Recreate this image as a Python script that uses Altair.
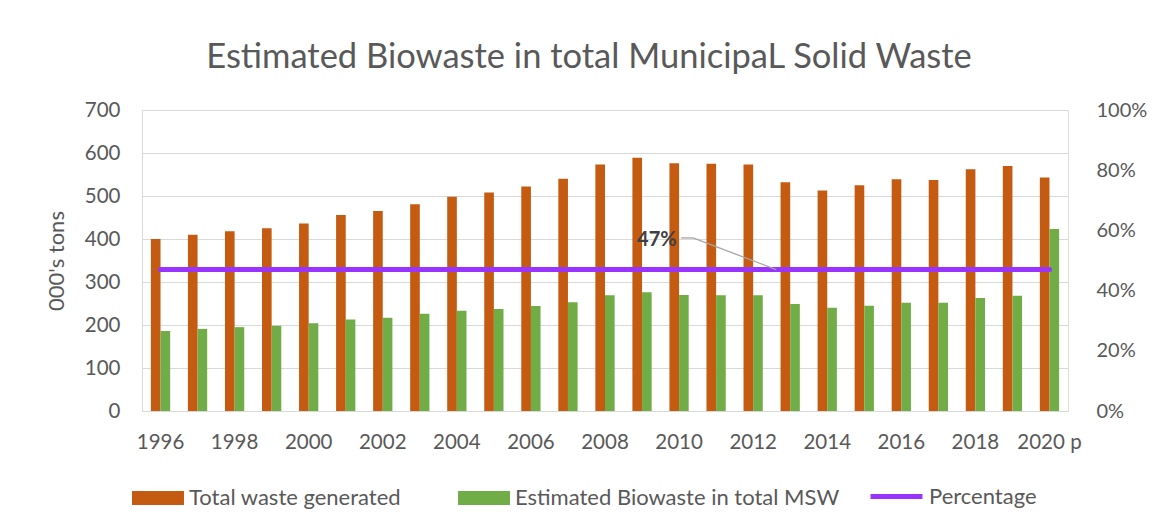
import altair as alt
import pandas as pd

years = ["1996", "1997", "1998", "1999", "2000", "2001", "2002", "2003", "2004",
         "2005", "2006", "2007", "2008", "2009", "2010", "2011", "2012", "2013",
         "2014", "2015", "2016", "2017", "2018", "2019", "2020 p"]
total_waste = [400, 410, 418, 425, 436, 456, 465, 481, 498, 508, 522, 540, 573,
               589, 576, 575, 573, 532, 513, 525, 539, 537, 562, 570, 543]
biowaste = [186, 191, 195, 198, 204, 213, 217, 226, 233, 237, 244, 253, 269,
            276, 270, 269, 269, 249, 240, 245, 252, 252, 263, 268, 423]
percentage = [0.47, 0.47, 0.47, 0.47, 0.47, 0.47, 0.47, 0.47, 0.47, 0.47, 0.47,
              0.47, 0.47, 0.47, 0.47, 0.47, 0.47, 0.47, 0.47, 0.47, 0.47, 0.47,
              0.47, 0.47, 0.47]
x_tick_labels = ["1996", "1998", "2000", "2002", "2004", "2006", "2008", "2010",
                 "2012", "2014", "2016", "2018", "2020 p"]
bar_series = ["Total waste generated", "Estimated Biowaste in total MSW"]
bar_colors = ["#C55A11", "#70AD47"]
line_series = ["Percentage"]
line_colors = ["#9933FF"]
label_year = ["2009"]
label_value = [0.568]
label_text = ["47%"]
leader_from = ["2010"]
leader_to = ["2013"]
leader_y_from = [0.575]
leader_y_to = [0.47]

FONT = "Lato"
GREY = "#595959"

bars_df = pd.DataFrame({
    "Year": years * 2,
    "Series": [bar_series[0]] * len(years) + [bar_series[1]] * len(years),
    "Value": total_waste + biowaste,
})
line_df = pd.DataFrame({"Year": years, "Series": line_series * len(years), "Pct": percentage})
label_df = pd.DataFrame({"Year": label_year, "Pct": label_value, "Text": label_text})
leader_df = pd.DataFrame({"Year": leader_from, "Year2": leader_to,
                          "Pct": leader_y_from, "Pct2": leader_y_to})

x_enc = alt.X("Year:N", sort="ascending",
              scale=alt.Scale(domain=years, paddingInner=0.48, paddingOuter=0.24),
              axis=alt.Axis(title=None, values=x_tick_labels, labelAngle=0, ticks=False,
                            domain=False, labelPadding=21, labelFontSize=20.5,
                            labelColor=GREY, labelFont=FONT))

bars = alt.Chart(bars_df).mark_bar().encode(
    x=x_enc,
    xOffset=alt.XOffset("Series:N", sort=bar_series),
    y=alt.Y("Value:Q", scale=alt.Scale(domain=[0, 700]),
            axis=alt.Axis(title="000's tons", values=list(range(0, 701, 100)),
                          ticks=False, domain=True, domainColor="#D9D9D9",
                          gridColor="#D9D9D9", labelFontSize=20.5, labelColor=GREY,
                          labelFont=FONT, labelPadding=22, titleFontSize=22,
                          titleColor=GREY, titleFont=FONT, titleFontWeight="normal",
                          titlePadding=16)),
    fill=alt.Fill("Series:N", scale=alt.Scale(domain=bar_series, range=bar_colors),
                  legend=alt.Legend(title=None, orient="none", legendX=-10, legendY=362,
                                    direction="horizontal",
                                    symbolType="M-1,-0.27H1V0.27H-1Z", symbolSize=2700,
                                    symbolStrokeWidth=0, labelFontSize=22,
                                    labelColor=GREY, labelFont=FONT, labelOffset=5,
                                    columnPadding=56, labelLimit=400)),
)

line = alt.Chart(line_df).mark_line(strokeWidth=5, strokeCap="round").encode(
    x=alt.X("Year:N", sort="ascending"),
    y=alt.Y("Pct:Q", scale=alt.Scale(domain=[0, 1]),
            axis=alt.Axis(orient="right", format=".0%", values=[0, 0.2, 0.4, 0.6, 0.8, 1.0],
                          grid=False, ticks=False, domain=False, title=None,
                          labelFontSize=20, labelColor=GREY, labelFont=FONT,
                          labelPadding=28)),
    stroke=alt.Stroke("Series:N", scale=alt.Scale(domain=line_series, range=line_colors),
                      legend=alt.Legend(title=None, orient="none", legendX=726, legendY=358,
                                        symbolType="stroke", symbolSize=2700,
                                        symbolStrokeWidth=5, labelFontSize=22,
                                        labelColor=GREY, labelFont=FONT, labelOffset=4)),
)

label = alt.Chart(label_df).mark_text(align="left", baseline="middle", dx=-5,
                                      fontSize=20, fontWeight="bold", color="#404040",
                                      font=FONT).encode(
    x=alt.X("Year:N", sort="ascending"),
    y="Pct:Q",
    text="Text:N",
)

leader_flat = alt.Chart(leader_df).mark_rule(color="#A6A6A6", strokeWidth=1.3,
                                             xOffset=2, x2Offset=14).encode(
    x=alt.X("Year:N", sort="ascending"),
    x2="Year:N",
    y="Pct:Q",
)

leader_diag = alt.Chart(leader_df).mark_rule(color="#A6A6A6", strokeWidth=1.3,
                                             xOffset=14, x2Offset=-14).encode(
    x=alt.X("Year:N", sort="ascending"),
    x2="Year2:N",
    y="Pct:Q",
    y2="Pct2:Q",
)

right_layers = alt.layer(line, leader_flat, leader_diag, label)

chart = alt.layer(bars, right_layers).resolve_scale(
    y="independent", fill="independent", stroke="independent"
).properties(
    width=926,
    height=301,
    title=alt.TitleParams("Estimated Biowaste in total MunicipaL Solid Waste",
                          fontSize=34.5, color=GREY, font=FONT, fontWeight="normal",
                          anchor="middle", offset=25, dx=-16),
    autosize=alt.AutoSizeParams(type="none"),
    padding={"left": 134, "top": 102, "right": 81, "bottom": 108},
).configure_view(stroke=None).configure(background="white")

chart.save("out.html", embed_options={"renderer": "svg", "actions": False})
